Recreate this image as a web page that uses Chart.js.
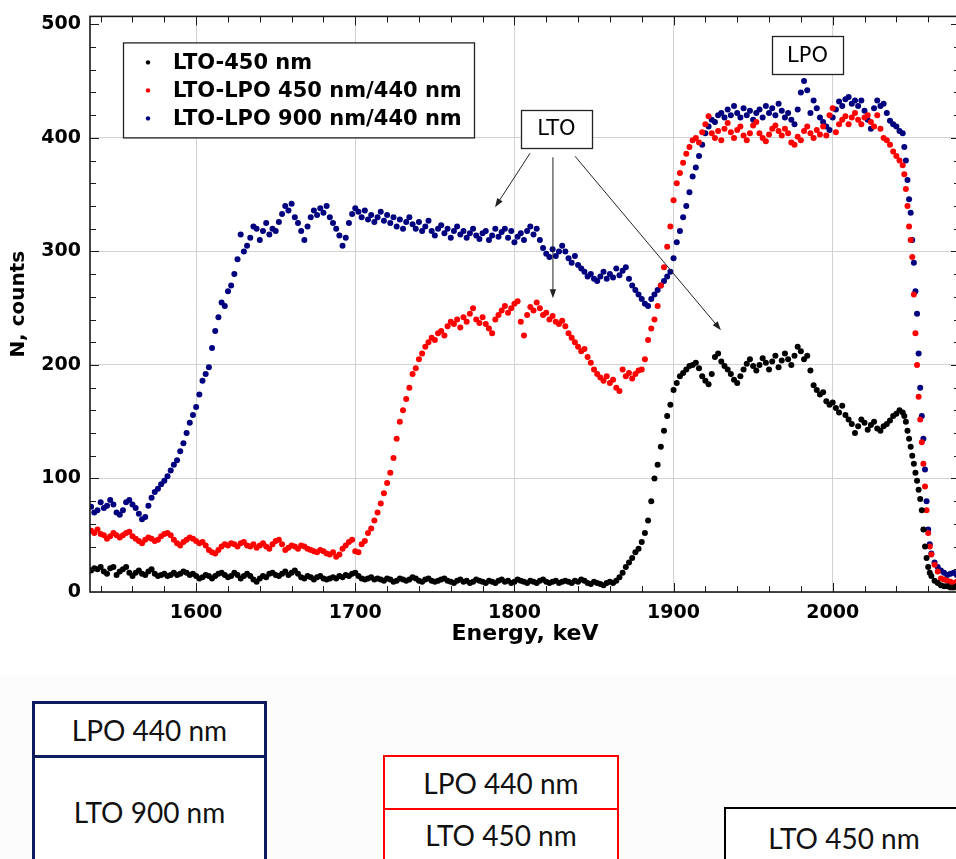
<!DOCTYPE html>
<html>
<head>
<meta charset="utf-8">
<title>RBS spectra: LTO and LTO-LPO films</title>
<script src="https://cdn.jsdelivr.net/npm/chart.js@4.4.0/dist/chart.umd.min.js"></script>
<style>
  html, body { margin: 0; padding: 0; background: #fff; overflow: hidden; }
  body { position: relative; width: 956px; height: 859px; }
  #spectrum { position: absolute; left: 0; top: -4px; }
  .layers-bg { position: absolute; left: 0; top: 676px; width: 956px; height: 183px; background: #fcfcfc; }
  .cell {
    position: absolute; box-sizing: border-box; background: #fff;
    display: flex; align-items: center; justify-content: center;
    font-family: Lato, "Open Sans", sans-serif; font-size: 28px; color: #111;
  }
  .navy { border: 3px solid #0d1c5c; }
  .red { border: 2px solid #ff0000; }
  .black { border: 2px solid #000; }
</style>
</head>
<body>
<canvas id="spectrum" width="960" height="664"></canvas>

<!-- layer stacks of the three samples -->
<div class="layers-bg"></div>
<div class="cell navy" style="left:32px; top:755px; width:235px; height:114px;">LTO 900 nm</div>
<div class="cell navy" style="left:32px; top:701px; width:235px; height:57px;">LPO 440 nm</div>
<div class="cell red" style="left:383px; top:808px; width:236px; height:54px;">LTO 450 nm</div>
<div class="cell red" style="left:383px; top:755px; width:236px; height:55px;">LPO 440 nm</div>
<div class="cell black" style="left:724px; top:807px; width:240px; height:62px;">LTO 450 nm</div>

<script>
// Energy channels, keV
const energyKeV = [
  1534, 1536, 1538, 1540, 1542, 1544, 1546, 1548, 1550, 1552,
  1554, 1556, 1558, 1560, 1562, 1564, 1566, 1568, 1570, 1572,
  1574, 1576, 1578, 1580, 1582, 1584, 1586, 1588, 1590, 1592,
  1594, 1596, 1598, 1600, 1602, 1604, 1606, 1608, 1610, 1612,
  1614, 1616, 1618, 1620, 1622, 1624, 1626, 1628, 1630, 1632,
  1634, 1636, 1638, 1640, 1642, 1644, 1646, 1648, 1650, 1652,
  1654, 1656, 1658, 1660, 1662, 1664, 1666, 1668, 1670, 1672,
  1674, 1676, 1678, 1680, 1682, 1684, 1686, 1688, 1690, 1692,
  1694, 1696, 1698, 1700, 1702, 1704, 1706, 1708, 1710, 1712,
  1714, 1716, 1718, 1720, 1722, 1724, 1726, 1728, 1730, 1732,
  1734, 1736, 1738, 1740, 1742, 1744, 1746, 1748, 1750, 1752,
  1754, 1756, 1758, 1760, 1762, 1764, 1766, 1768, 1770, 1772,
  1774, 1776, 1778, 1780, 1782, 1784, 1786, 1788, 1790, 1792,
  1794, 1796, 1798, 1800, 1802, 1804, 1806, 1808, 1810, 1812,
  1814, 1816, 1818, 1820, 1822, 1824, 1826, 1828, 1830, 1832,
  1834, 1836, 1838, 1840, 1842, 1844, 1846, 1848, 1850, 1852,
  1854, 1856, 1858, 1860, 1862, 1864, 1866, 1868, 1870, 1872,
  1874, 1876, 1878, 1880, 1882, 1884, 1886, 1888, 1890, 1892,
  1894, 1896, 1898, 1900, 1902, 1904, 1906, 1908, 1910, 1912,
  1914, 1916, 1918, 1920, 1922, 1924, 1926, 1928, 1930, 1932,
  1934, 1936, 1938, 1940, 1942, 1944, 1946, 1948, 1950, 1952,
  1954, 1956, 1958, 1960, 1962, 1964, 1966, 1968, 1970, 1972,
  1974, 1976, 1978, 1980, 1982, 1984, 1986, 1988, 1990, 1992,
  1994, 1996, 1998, 2000, 2002, 2004, 2006, 2008, 2010, 2012,
  2014, 2016, 2018, 2020, 2022, 2024, 2026, 2028, 2030, 2032,
  2034, 2036, 2038, 2040, 2042, 2044, 2045, 2046, 2047, 2048,
  2049, 2050, 2051, 2052, 2053, 2054, 2055, 2056, 2057, 2058,
  2059, 2060, 2061, 2062, 2064, 2066, 2068, 2070, 2072, 2074,
  2076, 2078, 2080
];

// LTO-450 nm
const ltoCounts = [
  19, 21, 20, 22, 18, 16, 21, 22, 15, 18,
  20, 22, 17, 14, 17, 19, 16, 15, 18, 20,
  16, 14, 15, 16, 14, 15, 17, 15, 16, 18,
  17, 15, 16, 14, 12, 13, 15, 14, 12, 14,
  16, 17, 15, 13, 14, 17, 15, 12, 14, 16,
  14, 11, 9, 12, 14, 13, 16, 17, 15, 14,
  16, 18, 15, 17, 19, 16, 13, 12, 14, 13,
  11, 13, 14, 12, 11, 12, 13, 12, 14, 13,
  15, 14, 16, 17, 14, 12, 11, 12, 13, 11,
  12, 11, 10, 12, 11, 9, 10, 12, 11, 10,
  11, 13, 12, 10, 9, 11, 12, 10, 9, 10,
  11, 12, 10, 9, 8, 10, 11, 9, 10, 8,
  9, 11, 10, 9, 8, 10, 9, 8, 10, 11,
  9, 10, 8, 9, 11, 10, 9, 8, 10, 9,
  8, 10, 11, 9, 8, 9, 10, 8, 9, 10,
  9, 8, 10, 9, 11, 10, 8, 7, 9, 8,
  7, 6, 8, 9, 8, 10, 13, 17, 22, 26,
  30, 35, 38, 44, 52, 63, 80, 100, 112, 128,
  142, 155, 165, 178, 184, 190, 193, 196, 199, 200,
  202, 197, 190, 186, 183, 192, 207, 210, 203, 199,
  196, 192, 187, 184, 190, 196, 201, 205, 199, 195,
  200, 206, 202, 196, 203, 208, 198, 204, 210, 205,
  200, 208, 216, 212, 205, 208, 195, 182, 178, 174,
  176, 168, 165, 167, 162, 158, 164, 156, 152, 148,
  140, 146, 152, 149, 143, 147, 150, 144, 142, 146,
  148, 151, 155, 157, 160, 158, 155, 150, 142, 135,
  128, 120, 113, 105, 98, 90, 82, 72, 55, 40,
  30, 22, 17, 14, 10, 8, 6, 5, 5, 4,
  4, 5, 5
];

// LTO-LPO 450 nm/440 nm
const lto450LpoCounts = [
  54, 52, 55, 51, 50, 47, 49, 52, 50, 48,
  50, 52, 53, 49, 47, 45, 43, 46, 48, 47,
  45, 46, 49, 51, 52, 50, 46, 43, 41, 44,
  46, 48, 47, 45, 43, 44, 41, 37, 35, 34,
  37, 40, 42, 41, 43, 42, 40, 43, 44, 41,
  40, 42, 39, 41, 43, 40, 38, 42, 45, 46,
  42, 37, 39, 41, 40, 38, 41, 40, 38, 37,
  36, 35, 37, 36, 34, 33, 35, 31, 33, 38,
  41, 44, 46, 36, 35, 42, 45, 52, 56, 63,
  70, 78, 87, 96, 105, 118, 135, 150, 160, 170,
  180, 192, 197, 205, 210, 216, 220, 224, 222, 228,
  230, 226, 234, 238, 236, 240, 233, 242, 238, 245,
  250, 240, 237, 242, 236, 232, 228, 240, 244, 248,
  252, 246, 250, 254, 256, 238, 226, 244, 251, 248,
  255, 250, 244, 246, 240, 243, 238, 236, 239, 234,
  228, 224, 220, 216, 212, 214, 207, 202, 196, 192,
  189, 186, 190, 184, 187, 180, 177, 196, 190, 193,
  188, 192, 195, 196, 205, 222, 232, 240, 252, 270,
  286, 304, 322, 345, 360, 369, 378, 386, 392, 398,
  400, 396, 405, 412, 419, 404, 400, 406, 398, 408,
  413, 405, 400, 407, 410, 402, 398, 404, 411, 414,
  404, 400, 397, 403, 408, 411, 406, 402, 408, 404,
  396, 394, 401, 398, 406, 410, 404, 400, 407, 403,
  410, 402, 420, 426, 405, 412, 416, 419, 412, 418,
  422, 416, 412, 418, 420, 414, 410, 420, 408, 400,
  398, 394, 388, 384, 380, 376, 368, 355, 340, 322,
  310, 295, 262, 228, 200, 172, 152, 132, 113, 93,
  72, 52, 40, 33, 24, 18, 12, 11, 10, 9,
  8, 9, 8
];

// LTO-LPO 900 nm/440 nm
const lto900LpoCounts = [
  75, 70, 72, 79, 74, 76, 81, 77, 70, 68,
  72, 79, 81, 77, 74, 69, 64, 66, 76, 83,
  88, 91, 95, 98, 102, 107, 112, 116, 124, 131,
  140, 149, 156, 163, 174, 186, 192, 198, 215, 230,
  242, 255, 252, 265, 270, 280, 293, 315, 300, 305,
  312, 322, 320, 310, 318, 325, 315, 320, 318, 326,
  333, 340, 336, 342, 330, 325, 318, 310, 322, 330,
  336, 332, 338, 334, 340, 330, 325, 320, 314, 305,
  312, 325, 333, 338, 335, 330, 336, 328, 332, 326,
  330, 335, 327, 332, 325, 330, 322, 328, 320, 326,
  330, 324, 320, 326, 318, 322, 327, 318, 314, 320,
  323, 316, 320, 312, 318, 322, 315, 318, 312, 316,
  320, 314, 311, 316, 318, 310, 314, 320, 313, 317,
  320, 312, 318, 308, 313, 316, 310, 318, 322, 315,
  320, 310, 303, 298, 295, 302, 296, 300, 305, 300,
  294, 290, 296, 288, 285, 282, 278, 280, 276, 274,
  278, 282, 276, 280, 277, 285, 279, 283, 286, 276,
  270, 266, 262, 258, 254, 252, 258, 262, 266, 270,
  274, 278, 282, 294, 308, 318, 330, 340, 352, 366,
  374, 384, 394, 404, 410, 416, 414, 420, 422, 418,
  425, 420, 428, 422, 418, 426, 420, 424, 416, 422,
  425, 418, 428, 422, 426, 420, 430, 424, 418, 422,
  416, 412, 425, 440, 450, 442, 422, 433, 426, 418,
  414, 410, 407, 418, 425, 432, 428, 434, 436, 430,
  433, 428, 433, 424, 416, 408, 426, 433, 428, 430,
  422, 415, 412, 410, 406, 404, 392, 380, 363, 346,
  334, 310, 290, 265, 245, 210, 180, 155, 135, 108,
  80, 55, 42, 34, 26, 22, 19, 17, 15, 16,
  17, 15, 16
];

const seriesLabels = ["LTO-450 nm", "LTO-LPO 450 nm/440 nm", "LTO-LPO 900 nm/440 nm"];
const seriesColors = ["#000000", "#ff0000", "#00007f"];
const xTicks = [1600, 1700, 1800, 1900, 2000];
const yTicks = [0, 100, 200, 300, 400, 500];

// Boxed labels and their arrows, in data units
const tagBoxes = [
  { text: "LTO", x: 1826.4, y: 408 },
  { text: "LPO", x: 1984.2, y: 472.7 }
];
const tagArrows = [
  { from: [1809.8, 386.4], to: [1787.8, 338.9] },
  { from: [1824.2, 382.9], to: [1824.2, 258.8] },
  { from: [1838.1, 383.8], to: [1929.8, 230.6] }
];

const axisFont = { family: "'DejaVu Sans', sans-serif", weight: "bold", size: 19 };
const titleFont = { family: "'DejaVu Sans', sans-serif", weight: "bold", size: 22 };

function toPoints(values) {
  return energyKeV.map((e, i) => ({ x: e, y: values[i] }));
}

// Box frame plus small inward ticks on all four sides
const framePlugin = {
  id: "frame",
  afterDatasetsDraw(chart) {
    const { ctx, chartArea: a, scales: { x, y } } = chart;
    ctx.save();
    ctx.strokeStyle = "#1a1a1a";
    ctx.lineWidth = 1;
    ctx.beginPath();
    for (let e = 1540; e <= 2080; e += 20) {
      const px = Math.round(x.getPixelForValue(e)) + 0.5;
      const len = e % 100 === 0 ? 9 : 6;
      ctx.moveTo(px, a.bottom); ctx.lineTo(px, a.bottom - len);
      ctx.moveTo(px, a.top); ctx.lineTo(px, a.top + len);
    }
    for (let n = 20; n <= 500; n += 20) {
      const py = Math.round(y.getPixelForValue(n)) + 0.5;
      const len = n % 100 === 0 ? 9 : 6;
      ctx.moveTo(a.left, py); ctx.lineTo(a.left + len, py);
      ctx.moveTo(a.right, py); ctx.lineTo(a.right - len, py);
    }
    ctx.stroke();
    ctx.lineWidth = 1.6;
    ctx.strokeRect(a.left, a.top, a.right - a.left, a.bottom - a.top);
    ctx.restore();
  }
};

function drawArrow(ctx, x1, y1, x2, y2) {
  const ang = Math.atan2(y2 - y1, x2 - x1);
  const head = 9, half = 3.2;
  ctx.beginPath();
  ctx.moveTo(x1, y1);
  ctx.lineTo(x2 - Math.cos(ang) * head * 0.6, y2 - Math.sin(ang) * head * 0.6);
  ctx.stroke();
  ctx.beginPath();
  ctx.moveTo(x2, y2);
  ctx.lineTo(x2 - Math.cos(ang) * head - Math.sin(ang) * half, y2 - Math.sin(ang) * head + Math.cos(ang) * half);
  ctx.lineTo(x2 - Math.cos(ang) * head + Math.sin(ang) * half, y2 - Math.sin(ang) * head - Math.cos(ang) * half);
  ctx.closePath();
  ctx.fill();
}

// Inset legend and the LTO / LPO callouts
const notesPlugin = {
  id: "notes",
  afterDraw(chart) {
    const { ctx, chartArea: a, scales: { x, y } } = chart;
    ctx.save();

    // legend
    const lx = a.left + 33, ly = a.top + 26, lw = 351, lh = 95;
    ctx.fillStyle = "#fff";
    ctx.fillRect(lx, ly, lw, lh);
    ctx.strokeStyle = "#222";
    ctx.lineWidth = 1.3;
    ctx.strokeRect(lx + 0.5, ly + 0.5, lw, lh);
    ctx.font = "bold 21px 'DejaVu Sans', sans-serif";
    ctx.textBaseline = "middle";
    chart.data.datasets.forEach((ds, i) => {
      const ry = ly + 20 + i * 28;
      ctx.fillStyle = ds.backgroundColor;
      ctx.beginPath();
      ctx.arc(lx + 25, ry, 2.2, 0, Math.PI * 2);
      ctx.fill();
      ctx.fillStyle = "#000";
      ctx.fillText(ds.label, lx + 50, ry + 1);
    });

    // arrows
    ctx.strokeStyle = "#222";
    ctx.fillStyle = "#222";
    ctx.lineWidth = 1;
    tagArrows.forEach(ar => {
      drawArrow(ctx,
        x.getPixelForValue(ar.from[0]), y.getPixelForValue(ar.from[1]),
        x.getPixelForValue(ar.to[0]), y.getPixelForValue(ar.to[1]));
    });

    // boxed tags
    ctx.font = "21px 'DejaVu Sans', sans-serif";
    ctx.textAlign = "center";
    tagBoxes.forEach(t => {
      const cx = x.getPixelForValue(t.x), cy = y.getPixelForValue(t.y);
      const w = 71, h = 38;
      ctx.fillStyle = "#fff";
      ctx.fillRect(cx - w / 2, cy - h / 2, w, h);
      ctx.strokeStyle = "#222";
      ctx.lineWidth = 1.3;
      ctx.strokeRect(Math.round(cx - w / 2) + 0.5, Math.round(cy - h / 2) + 0.5, w, h);
      ctx.fillStyle = "#000";
      ctx.fillText(t.text, cx, cy + 1);
    });
    ctx.restore();
  }
};

const datasets = [ltoCounts, lto450LpoCounts, lto900LpoCounts].map((vals, i) => ({
  label: seriesLabels[i],
  data: toPoints(vals),
  backgroundColor: seriesColors[i],
  borderWidth: 0,
  pointRadius: 3,
  pointHoverRadius: 3
}));

const canvas = document.getElementById("spectrum");
const chart = new Chart(canvas, {
  type: "scatter",
  data: { datasets },
  options: {
    responsive: false,
    animation: false,
    events: [],
    layout: { autoPadding: false, padding: 0 },
    plugins: { legend: { display: false }, tooltip: { enabled: false } },
    scales: {
      x: {
        type: "linear",
        min: 1533.3,
        max: 2080,
        afterBuildTicks: axis => { axis.ticks = xTicks.map(v => ({ value: v })); },
        afterFit: axis => { axis.height = 68; },
        ticks: { font: axisFont, color: "#000", padding: 10, includeBounds: false, callback: v => String(v) },
        grid: { color: "#d2d2d2", lineWidth: 1, drawTicks: false },
        border: { display: false },
        title: { display: true, text: "Energy, keV", font: titleFont, color: "#000", padding: { top: 0, bottom: 13 } }
      },
      y: {
        type: "linear",
        min: 0,
        max: 507,
        afterBuildTicks: axis => { axis.ticks = yTicks.map(v => ({ value: v })); },
        afterFit: axis => { axis.width = 90; },
        ticks: { font: axisFont, color: "#000", padding: 9, includeBounds: false, callback: v => String(v) },
        grid: {
          color: c => (c.tick && c.tick.value === 500 ? "rgba(0,0,0,0)" : "#d2d2d2"),
          lineWidth: 1,
          drawTicks: false
        },
        border: { display: false },
        title: { display: true, text: "N, counts", font: { ...titleFont, size: 20 }, color: "#000", padding: { top: 7, bottom: 0 } }
      }
    }
  },
  plugins: [framePlugin, notesPlugin]
});

// the scale reserves a few px above the plot; shift the canvas so the frame starts at y = 16
canvas.style.top = Math.round(16 - chart.chartArea.top) + "px";
</script>
</body>
</html>
